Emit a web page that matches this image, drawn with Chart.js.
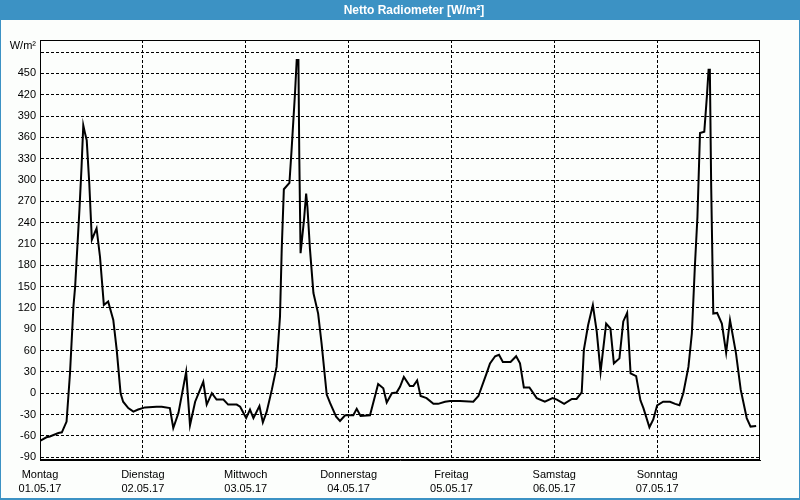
<!DOCTYPE html>
<html><head><meta charset="utf-8">
<script src="https://cdn.jsdelivr.net/npm/chart.js@4"></script>
<style>html,body{margin:0;padding:0;background:#fff}#wrap{width:800px;height:500px;position:relative}</style>
</head><body><div id="wrap"><canvas id="c" width="800" height="500"></canvas></div>
<script>
const chartTitle = 'Netto Radiometer [W/m²]';
const unitLabel = 'W/m²';
const dayLabels = ['Montag','Dienstag','Mittwoch','Donnerstag','Freitag','Samstag','Sonntag'];
const dateLabels = ['01.05.17','02.05.17','03.05.17','04.05.17','05.05.17','06.05.17','07.05.17'];
const xTicks = [0,24,48,72,96,120,144,168];
const yTicks = [-90,-60,-30,0,30,60,90,120,150,180,210,240,270,300,330,360,390,420,450,480];
const hours = [0,1.5,2.3,4.3,5.1,6.2,7.0,7.8,8.2,9.2,9.7,10.1,10.5,10.9,11.5,12.1,13.2,14.0,14.9,15.9,17.1,17.9,18.8,19.4,20.6,21.8,22.9,24.5,27.2,28.4,30.3,31.1,32.3,34.1,35.0,36.2,38.1,38.9,40.1,41.2,42.8,43.9,45.9,46.7,48.1,49.0,49.8,51.2,52.0,52.9,54.1,55.2,56.0,56.4,56.9,58.2,58.7,59.5,59.9,60.3,60.5,60.8,61.6,62.1,62.4,63.0,63.8,64.9,65.7,66.9,67.7,69.1,70.0,71.2,73.1,73.9,74.8,77.0,78.9,80.1,80.9,82.1,83.2,84.0,84.9,86.3,87.1,88.0,88.8,90.2,91.8,92.9,94.5,95.7,98.0,101.1,102.3,104.2,105.0,106.2,107.1,108.0,109.8,111.1,112.0,112.9,114.2,115.9,117.8,119.6,120.6,122.3,124.1,125.2,126.4,126.9,127.9,129.0,129.9,130.8,132.1,133.1,133.9,135.2,136.1,137.0,137.8,139.1,140.1,140.8,142.2,143.1,144.0,145.4,147.0,148.2,149.2,150.1,151.3,152.1,152.8,153.4,154.0,155.0,155.6,156.0,156.3,156.6,157.1,158.0,159.1,160.1,161.0,162.4,163.5,164.9,165.8,167.1];
const values = [-67,-62,-61,-56,-55,-40,28,122,150,258,319,377,366,356,295,216,232,192,124,129,103,61,0,-12,-21,-26,-23,-20,-19,-19,-21,-49,-28,30,-45,-12,16,-16,0,-9,-9,-16,-16,-19,-35,-23,-35,-18,-41,-26,5,37,108,202,287,296,342,422,469,469,333,197,244,281,262,202,141,112,70,-2,-14,-33,-39,-31,-31,-22,-32,-31,13,7,-13,0,1,9,23,10,10,18,-4,-7,-15,-15,-12,-11,-11,-12,-4,28,42,52,54,44,44,52,42,8,8,-7,-12,-7,-9,-15,-8,-8,1,61,96,124,87,30,98,91,42,49,101,113,28,24,-10,-21,-48,-37,-17,-12,-12,-15,-17,0,37,84,178,248,366,368,417,455,455,295,112,113,98,57,103,56,5,-35,-47,-46];

const FONT = 'Liberation Sans, Arial, sans-serif';
const BLUE = '#3c92c4';

const decor = {
  id: 'decor',
  beforeDraw(chart) {
    const ctx = chart.ctx, W = chart.width, H = chart.height;
    ctx.save();
    ctx.fillStyle = '#fcfefc';
    ctx.fillRect(0, 0, W, H);
    ctx.fillStyle = BLUE;
    ctx.fillRect(0, 0, W, 20);
    ctx.fillRect(0, 0, 1, H);
    ctx.fillRect(W - 1, 0, 1, H);
    ctx.fillRect(0, H - 2, W, 2);
    ctx.restore();
  },
  afterDraw(chart) {
    const ctx = chart.ctx, a = chart.chartArea;
    ctx.save();
    ctx.strokeStyle = '#000';
    ctx.lineWidth = 1;
    ctx.strokeRect(Math.round(a.left) + 0.5, Math.round(a.top) + 0.5, Math.round(a.right - a.left) - 1, Math.round(a.bottom - a.top) - 1);
    ctx.fillStyle = '#ffffff';
    ctx.font = 'bold 12px ' + FONT;
    ctx.textAlign = 'center';
    ctx.textBaseline = 'middle';
    ctx.fillText(chartTitle, 414, 10.5);
    ctx.fillStyle = '#000';
    ctx.font = '11px ' + FONT;
    ctx.textAlign = 'right';
    ctx.fillText(unitLabel, 36, 46);
    ctx.restore();
  }
};

new Chart(document.getElementById('c'), {
  type: 'line',
  data: {
    datasets: [{
      data: hours.map((h, i) => ({x: h, y: values[i]})),
      borderColor: '#000',
      borderWidth: 2,
      pointRadius: 0,
      tension: 0,
      fill: false
    }]
  },
  options: {
    responsive: false,
    animation: false,
    layout: {padding: {top: 40, right: 40, left: 0, bottom: 0}},
    plugins: {legend: {display: false}, title: {display: false}, tooltip: {enabled: false}},
    scales: {
      x: {
        type: 'linear', min: 0, max: 168,
        afterBuildTicks: s => { s.ticks = xTicks.map(v => ({value: v})); },
        afterFit: s => { s.height = 40; },
        grid: {
          color: c => (c.tick && (c.tick.value === 0 || c.tick.value === 168)) ? 'rgba(0,0,0,0)' : '#000',
          lineWidth: 1, drawTicks: false
        },
        border: {display: true, color: '#000', width: 1, dash: [3, 2]},
        ticks: {
          autoSkip: false, maxRotation: 0, minRotation: 0, padding: 8, color: '#000',
          font: {family: FONT, size: 11, lineHeight: 1.3},
          callback: (v, i) => i < 7 ? [dayLabels[i], dateLabels[i]] : ''
        }
      },
      y: {
        min: -94, max: 497,
        afterBuildTicks: s => { s.ticks = yTicks.map(v => ({value: v})); },
        afterFit: s => { s.width = 40; },
        grid: {color: '#000', lineWidth: 1, drawTicks: false},
        border: {display: true, color: '#000', width: 1, dash: [3, 2]},
        ticks: {
          padding: 4, color: '#000',
          font: {family: FONT, size: 11},
          callback: v => v === 480 ? '' : String(v)
        }
      }
    }
  },
  plugins: [decor]
});
</script>
</body></html>
